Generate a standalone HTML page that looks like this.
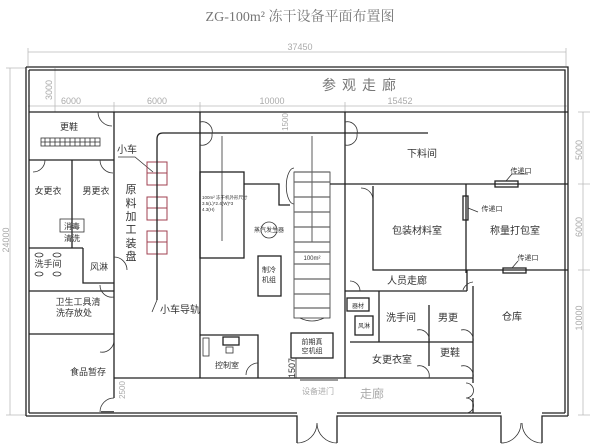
<!DOCTYPE html>
<html><head><meta charset="utf-8"><style>
html,body{margin:0;padding:0;background:#fff;width:600px;height:444px;overflow:hidden}
svg{display:block}
text{font-family:"Liberation Sans","Noto Sans CJK SC",sans-serif;fill:#333}
.w{stroke:#222;stroke-width:1.3;fill:none}
.t{stroke:#333;stroke-width:0.8;fill:none}
.d{stroke:#bbb;stroke-width:0.8;fill:none}
.g{fill:#aaa}
.r{stroke:#a04050;stroke-width:1;fill:none}
</style></head><body>
<svg width="600" height="444" viewBox="0 0 600 444" xmlns="http://www.w3.org/2000/svg">
<text x="300" y="21" font-size="14" text-anchor="middle" fill="#777" style="fill:#777;font-family:'Liberation Serif','Noto Serif CJK SC',serif">ZG-100m² 冻干设备平面布置图</text>
<path class="d" d="M28 52H566M28 48V66M566 48V66M28 106H567M114 102V112M200 102V112M345 102V112M10 68V415M6 68H26M6 415H26M55 68V112M583 112V184M583 184V270M583 270V415M578 112H590M578 184H590M578 270H590M578 415H590"/>
<text x="300" y="50" font-size="9" class="g" text-anchor="middle">37450</text>
<text x="71" y="104" font-size="9" class="g" text-anchor="middle">6000</text>
<text x="157" y="104" font-size="9" class="g" text-anchor="middle">6000</text>
<text x="272" y="104" font-size="9" class="g" text-anchor="middle">10000</text>
<text x="400" y="104" font-size="9" class="g" text-anchor="middle">15452</text>
<text transform="translate(52,90) rotate(-90)" font-size="9" class="g" text-anchor="middle">3000</text>
<text transform="translate(9,240) rotate(-90)" font-size="9" class="g" text-anchor="middle">24000</text>
<text transform="translate(288,122) rotate(-90)" font-size="8" class="g" text-anchor="middle">1500</text>
<text transform="translate(582,150) rotate(-90)" font-size="9" class="g" text-anchor="middle">5000</text>
<text transform="translate(582,227) rotate(-90)" font-size="9" class="g" text-anchor="middle">6000</text>
<text transform="translate(582,318) rotate(-90)" font-size="9" class="g" text-anchor="middle">10000</text>
<text transform="translate(125,390) rotate(-90)" font-size="8" class="g" text-anchor="middle">2500</text>
<text transform="translate(295,368) rotate(-90)" font-size="9" text-anchor="middle">1507</text>
<path class="w" d="M26 67H568V416M29 70H565V413M26 67V416M29 70V413"/>
<path class="w" d="M29 413H297M337 413H501M542 413H565M26 416H297V443M337 443V416H501V443M542 443V416H568"/>
<path class="t" d="M297 443a20 20 0 0 0 20-20M337 443a20 20 0 0 1-20-20M501 443a20 20 0 0 0 20-20M542 443a20 20 0 0 1-20-20"/>
<path class="w" d="M29 112H568"/>
<text x="362" y="90" font-size="14" fill="#777" style="fill:#777" text-anchor="middle" letter-spacing="6">参观走廊</text>
<path class="w" d="M114 112V378M29 160H114M72 160V248M29 248H83M83 248V283H114M29 291H114M29 334H114M114 378V398"/>
<rect x="41" y="138" width="59" height="8" class="t"/>
<path class="t" d="M45 138v8M50 138v8M55 138v8M60 138v8M65 138v8M70 138v8M75 138v8M80 138v8M85 138v8M90 138v8M95 138v8M41 142h59"/>
<text x="69" y="130" font-size="9" text-anchor="middle">更鞋</text>
<text x="48" y="194" font-size="9" text-anchor="middle">女更衣</text>
<text x="96" y="194" font-size="9" text-anchor="middle">男更衣</text>
<rect x="60" y="219" width="24" height="13" class="t"/>
<text x="72" y="229" font-size="8" text-anchor="middle">消毒</text>
<text x="72" y="241" font-size="8" text-anchor="middle">清洗</text>
<g class="t"><ellipse cx="39" cy="255" rx="4" ry="2"/><ellipse cx="57" cy="255" rx="4" ry="2"/><ellipse cx="39" cy="274" rx="4" ry="2"/><ellipse cx="57" cy="274" rx="4" ry="2"/></g>
<text x="48" y="267" font-size="9" text-anchor="middle">洗手间</text>
<text x="99" y="270" font-size="9" text-anchor="middle">风淋</text>
<text x="78" y="305" font-size="9" text-anchor="middle">卫生工具清</text>
<text x="74" y="316" font-size="9" text-anchor="middle">洗存放处</text>
<text x="88" y="375" font-size="9" text-anchor="middle">食品暂存</text>
<path class="t" d="M98 112a14 14 0 0 0 14 14M100 160a13 13 0 0 0 13 13M45 160a12 12 0 0 1-12 12M114 257a13 13 0 0 1 13 13M114 297a12 12 0 0 1-14-12M114 340a12 12 0 0 1-14 12M114 398a14 14 0 0 0-14 14"/>
<path stroke="#555" stroke-width="2" d="M101 412H114"/>
<path class="w" d="M114 378H200"/>
<path class="w" d="M200 112V378"/>
<text x="127" y="153" font-size="10" text-anchor="middle">小车</text>
<path class="t" d="M118 157H135L153 172"/>
<g class="r"><rect x="147" y="162" width="20" height="23"/><path d="M157 162v23M147 173h20"/><rect x="147" y="197" width="20" height="23"/><path d="M157 197v23M147 208h20"/><rect x="147" y="231" width="20" height="23"/><path d="M157 231v23M147 242h20"/></g>
<g font-size="11" text-anchor="middle"><text x="131" y="193">原</text><text x="131" y="207">料</text><text x="131" y="220">加</text><text x="131" y="233">工</text><text x="131" y="247">装</text><text x="131" y="260">盘</text></g>
<path class="w" d="M157 300V139Q157 133 163 133H428" stroke-width="1.6" stroke="#555"/>
<path class="t" d="M157 300L152 312"/>
<text x="180" y="313" font-size="10" text-anchor="middle">小车导轨</text>
<path class="t" d="M200 122a10 10 0 0 1 12 12M200 145a10 10 0 0 0 12-11"/>
<rect x="200" y="172" width="44" height="86" class="w"/>
<path class="w" d="M244 184H279V205H290"/>
<path class="t" d="M222 136V241M312 136V242"/>
<text x="202" y="199" font-size="4.5">100m² 冻干机外形尺寸</text>
<text x="202" y="205" font-size="4.5">3.5(L)*2.4(W)*3</text>
<text x="202" y="211" font-size="4.5">4.3(H)</text>
<circle cx="269" cy="230" r="8" class="t"/>
<text x="269" y="232" font-size="6" text-anchor="middle">蒸汽发生器</text>
<rect x="294" y="172" width="36" height="146" class="t"/>
<g stroke="#666" stroke-width="1.2"><path d="M294 172H330M294 182H330M294 197H330M294 212H330M294 227H330M294 242H330M294 252H330M294 264H330M294 279H330M294 294H330M294 308H330"/></g>
<path class="t" d="M294 168a6 14 0 0 0 0 36M300 318q12 6 24 0"/>
<text x="312" y="260" font-size="6" text-anchor="middle">100m²</text>
<rect x="258" y="256" width="23" height="40" class="w"/>
<text x="269" y="272" font-size="7" text-anchor="middle">制冷</text>
<text x="269" y="282" font-size="7" text-anchor="middle">机组</text>
<path class="w" d="M200 335H258V378"/>
<path class="w" d="M200 378H345"/>
<rect x="203" y="338" width="6" height="18" class="t"/>
<rect x="223" y="337" width="16" height="8" class="w"/>
<rect x="226" y="347" width="7" height="6" class="t"/>
<text x="227" y="368" font-size="8" text-anchor="middle">控制室</text>
<path class="t" d="M258 363a12 12 0 0 0-12 12"/>
<rect x="291" y="333" width="42" height="25" class="w"/>
<text x="312" y="344" font-size="7" text-anchor="middle">前期真</text>
<text x="312" y="353" font-size="7" text-anchor="middle">空机组</text>
<path class="t" d="M296 358V378"/>
<path stroke="#999" stroke-width="2" d="M300 380H338"/>
<text x="318" y="394" font-size="8" class="g" text-anchor="middle">设备进门</text>
<text x="372" y="398" font-size="12" class="g" text-anchor="middle">走廊</text>
<path class="w" d="M345 112V378"/>
<path class="t" d="M345 122a10 10 0 0 1 12 12M345 145a10 10 0 0 0 12-11"/>
<path class="w" d="M330 184H568M373 186V270H568M466 184V273M467 270V291"/>
<path class="t" d="M361 188a12 12 0 0 1 12 12"/>
<text x="422" y="157" font-size="10" text-anchor="middle">下料间</text>
<rect x="495" y="181" width="23" height="6" class="w"/>
<path class="t" d="M506 181L512 174H528"/>
<text x="521" y="173" font-size="7" text-anchor="middle">传递口</text>
<rect x="463" y="196" width="5" height="24" class="w"/>
<path class="t" d="M468 208L478 212"/>
<text x="492" y="211" font-size="7" text-anchor="middle">传递口</text>
<rect x="503" y="268" width="23" height="5" class="w"/>
<path class="t" d="M512 268L518 261"/>
<text x="528" y="260" font-size="7" text-anchor="middle">传递口</text>
<text x="417" y="234" font-size="10" text-anchor="middle">包装材料室</text>
<text x="515" y="234" font-size="10" text-anchor="middle">称量打包室</text>
<text x="407" y="284" font-size="10" text-anchor="middle">人员走廊</text>
<path class="w" d="M345 291H467M473 286V383M473 398V413"/>
<path class="w" d="M379 291V342M429 305V366M350 342H473M345 378H473"/>
<path class="t" d="M350 281a10 10 0 0 1 10 10M473 282a12 12 0 0 0-10 8M429 342a10 10 0 0 0-12-12M473 342a10 10 0 0 0-12-12M429 378a10 10 0 0 0-12-12M473 378a10 10 0 0 0-12-12M466 383a7 7 0 0 1 0 15M466 398a7 7 0 0 1 0 15"/>
<rect x="347" y="298" width="22" height="13" class="w"/>
<text x="358" y="308" font-size="6" text-anchor="middle">器材</text>
<rect x="355" y="316" width="18" height="19" class="w"/>
<text x="364" y="328" font-size="6" text-anchor="middle">风淋</text>
<text x="401" y="321" font-size="10" text-anchor="middle">洗手间</text>
<text x="448" y="321" font-size="10" text-anchor="middle">男更</text>
<text x="392" y="363" font-size="10" text-anchor="middle">女更衣室</text>
<text x="450" y="356" font-size="10" text-anchor="middle">更鞋</text>
<text x="512" y="320" font-size="10" text-anchor="middle">仓库</text>
</svg>
</body></html>
